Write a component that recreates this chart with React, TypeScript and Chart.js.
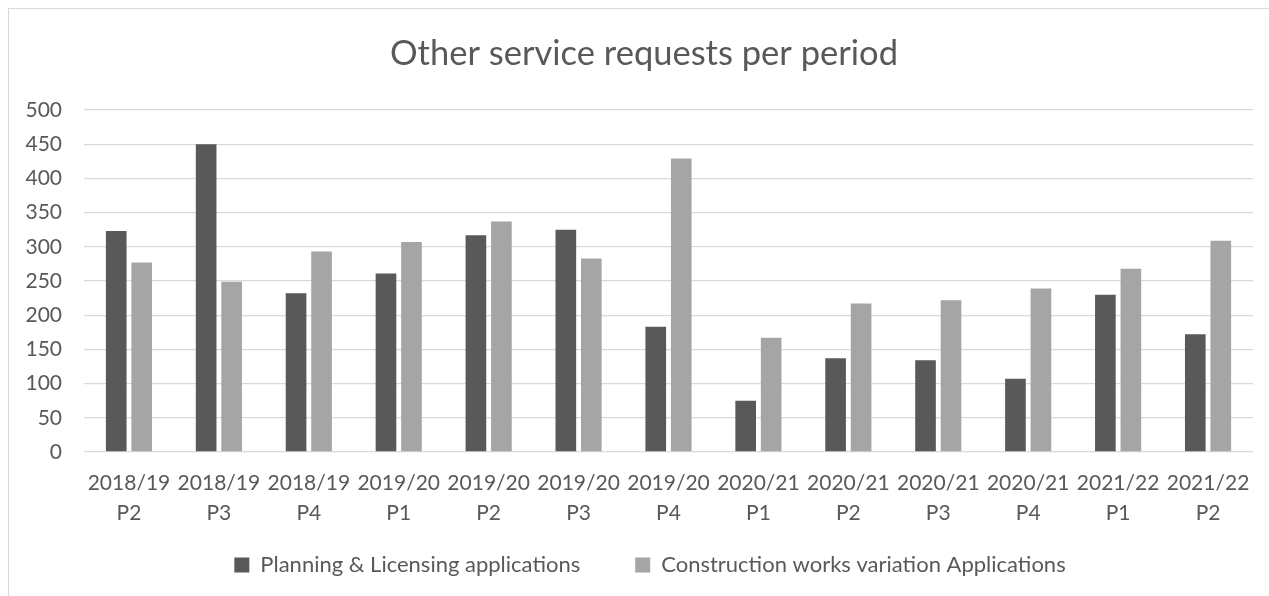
import React, { useEffect, useRef } from "react";
import { Chart, registerables } from "chart.js";

Chart.register(...registerables);

const categories: string[][] = [
  ["2018/19", "P2"], ["2018/19", "P3"], ["2018/19", "P4"],
  ["2019/20", "P1"], ["2019/20", "P2"], ["2019/20", "P3"], ["2019/20", "P4"],
  ["2020/21", "P1"], ["2020/21", "P2"], ["2020/21", "P3"], ["2020/21", "P4"],
  ["2021/22", "P1"], ["2021/22", "P2"],
];
const planningLicensing: number[] = [323, 450, 232, 261, 317, 325, 183, 75, 137, 134, 107, 230, 172];
const constructionVariation: number[] = [277, 249, 293, 307, 337, 283, 429, 167, 217, 222, 239, 268, 309];
const seriesNames: string[] = ["Planning & Licensing applications", "Construction works variation Applications"];
const chartTitle = "Other service requests per period";

const FONT = "Lato";
const TEXT = "#595959";

export default function App() {
  const ref = useRef<HTMLCanvasElement | null>(null);
  useEffect(() => {
    if (!ref.current) return;
    const shiftBlocks = {
      id: "shiftBlocks",
      afterLayout(chart: any) {
        if (chart.legend) {
          chart.legend.left += 19;
          chart.legend.right += 19;
          chart.legend.top -= 31;
          chart.legend.bottom = chart.height;
        }
        if (chart.titleBlock) {
          chart.titleBlock.left += 13;
          chart.titleBlock.right += 13;
        }
      },
    };
    const chart = new Chart(ref.current, {
      type: "bar",
      data: {
        labels: categories,
        datasets: [
          {
            label: seriesNames[0],
            data: planningLicensing,
            backgroundColor: "#595959",
            borderWidth: 0,
            categoryPercentage: 0.567,
            barPercentage: 0.81,
          },
          {
            label: seriesNames[1],
            data: constructionVariation,
            backgroundColor: "#a5a5a5",
            borderWidth: 0,
            categoryPercentage: 0.567,
            barPercentage: 0.81,
          },
        ],
      },
      options: {
        animation: false,
        responsive: false,
        maintainAspectRatio: false,
        layout: { padding: { left: 0, right: 18, top: 0, bottom: 22 } },
        plugins: {
          title: {
            display: true,
            text: chartTitle,
            color: TEXT,
            font: { family: FONT, size: 34.5, weight: "normal", lineHeight: 1.2 },
            padding: { top: 24, bottom: 35.6 },
          },
          legend: {
            position: "bottom",
            maxHeight: 47,
            labels: {
              color: TEXT,
              font: { family: FONT, size: 22 },
              boxWidth: 15,
              boxHeight: 15,
              padding: 55,
            },
          },
          tooltip: { enabled: false },
        },
        scales: {
          x: {
            grid: { display: false, drawTicks: false },
            border: { display: false },
            ticks: {
              color: TEXT,
              font: { family: FONT, size: 21, lineHeight: 1.43 },
              padding: 16,
              maxRotation: 0,
              autoSkip: false,
            },
            afterFit: (s: any) => { s.height = 78; },
          },
          y: {
            min: 0,
            max: 500,
            ticks: {
              stepSize: 50,
              color: TEXT,
              font: { family: FONT, size: 21 },
              padding: 22,
            },
            grid: { color: "#d9d9d9", lineWidth: 1.3, drawTicks: false },
            border: { display: false },
            afterFit: (s: any) => { s.width = 75; },
          },
        },
      },
      plugins: [shiftBlocks],
    });
    return () => chart.destroy();
  }, []);
  return (
    <div
      style={{
        position: "fixed",
        left: 8,
        top: 8,
        width: 1262,
        height: 590,
        border: "1px solid #d9d9d9",
        background: "#fff",
      }}
    >
      <canvas ref={ref} width={1262} height={590} style={{ display: "block" }} />
    </div>
  );
}
